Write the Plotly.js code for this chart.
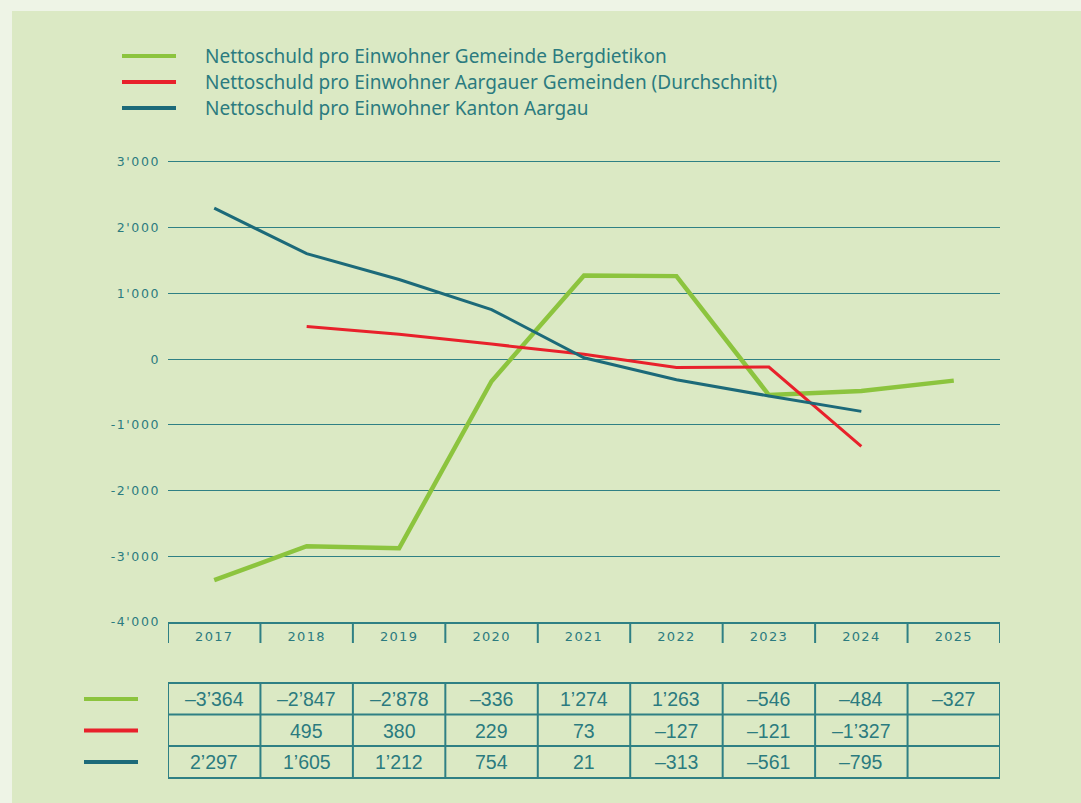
<!DOCTYPE html>
<html>
<head>
<meta charset="utf-8">
<script src="https://cdn.plot.ly/plotly-3.0.1.min.js"></script>
<style>
  html, body { margin: 0; padding: 0; background: #eef4e6; }
  #chart { width: 1081px; height: 803px; }
  .xtick text { letter-spacing: 1.3px; }
  .ytick text { letter-spacing: 1.6px; }
  .gridlayer path, .zerolinelayer path { shape-rendering: crispEdges; }
</style>
</head>
<body>
<div id="chart"></div>
<script>
// ---- data ----
const years = ['2017', '2018', '2019', '2020', '2021', '2022', '2023', '2024', '2025'];
const gemeinde = [-3364, -2847, -2878, -336, 1274, 1263, -546, -484, -327];
const aargauer = [null, 495, 380, 229, 73, -127, -121, -1327, null];
const kanton = [2297, 1605, 1212, 754, 21, -313, -561, -795, null];
const seriesNames = [
  'Nettoschuld pro Einwohner Gemeinde Bergdietikon',
  'Nettoschuld pro Einwohner Aargauer Gemeinden (Durchschnitt)',
  'Nettoschuld pro Einwohner Kanton Aargau'
];
const yTickVals = [3000, 2000, 1000, 0, -1000, -2000, -3000, -4000];
const yTickText = ["3'000", "2'000", "1'000", "0", "-1'000", "-2'000", "-3'000", "-4'000"];

// ---- styling ----
const GREEN = '#8cc43e';
const RED = '#e8212b';
const BLUE = '#1c6a79';
const TEAL = '#2b7b7f';
const LINE = '#2f8084';
const PANEL = '#dbe9c4';
const FONT = '"Liberation Sans", Arial, sans-serif';
const TICKFONT = '"DejaVu Sans", sans-serif';
const LEGFONT = '"Noto Sans", "Liberation Sans", sans-serif';

const allSeries = [gemeinde, aargauer, kanton];
const colors = [GREEN, RED, BLUE];
const widths = [4.5, 3, 3];

function fmt(v) {
  if (v === null || v === undefined) return '';
  const s = Math.abs(v).toString().replace(/\B(?=(\d{3})+(?!\d))/g, '\u2019');
  return (v < 0 ? '\u2013' : '') + s;
}

const traces = allSeries.map((vals, i) => ({
  type: 'scatter', mode: 'lines', x: years, y: vals, name: seriesNames[i],
  line: { color: colors[i], width: widths[i] }, connectgaps: false,
  hoverinfo: 'skip', showlegend: false
}));

// paper coordinate helpers (plot: top 160px, bottom 622px, left 168px, width 832px)
const TOP = 160, BOT = 622, LEFT = 168, PW = 832;
const PH = BOT - TOP;
const py = p => (BOT - p) / PH;
const px = p => (p - LEFT) / PW;
const colX = j => (j + 0.5) / years.length;   // centre of category column in paper units

const shapes = [];
const annotations = [];

// panel background
shapes.push({ type: 'rect', xref: 'paper', yref: 'paper', x0: px(12), x1: px(1090), y0: py(11), y1: py(810),
  fillcolor: PANEL, line: { width: 0 }, layer: 'below' });

// top legend
const legY = [56, 82, 108];
seriesNames.forEach((name, i) => {
  shapes.push({ type: 'line', xref: 'paper', yref: 'paper', x0: px(122), x1: px(176), y0: py(legY[i]), y1: py(legY[i]),
    line: { color: colors[i], width: 4 } });
  annotations.push({ xref: 'paper', yref: 'paper', x: px(203), y: py(legY[i]), xanchor: 'left', yanchor: 'middle',
    text: name, showarrow: false, font: { family: LEGFONT, size: 19, color: TEAL } });
});

// x-axis category boundary boxes
for (let k = 0; k <= years.length; k++) {
  shapes.push({ type: 'line', xref: 'x', yref: 'paper', x0: k - 0.5, x1: k - 0.5, y0: 0, y1: py(643),
    line: { color: LINE, width: 2 } });
}

// table
const rowEdges = [683, 714.5, 746, 778];
const rowCenters = [699, 730.5, 762];
rowEdges.forEach(e => {
  shapes.push({ type: 'line', xref: 'x', yref: 'paper', x0: -0.52, x1: years.length - 0.5, y0: py(e), y1: py(e),
    line: { color: LINE, width: 2 } });
});
for (let k = 0; k <= years.length; k++) {
  shapes.push({ type: 'line', xref: 'x', yref: 'paper', x0: k - 0.5, x1: k - 0.5, y0: py(683), y1: py(778),
    line: { color: LINE, width: 2 } });
}
allSeries.forEach((vals, i) => {
  shapes.push({ type: 'line', xref: 'paper', yref: 'paper', x0: px(84), x1: px(138), y0: py(rowCenters[i]), y1: py(rowCenters[i]),
    line: { color: colors[i], width: 4 } });
  vals.forEach((v, j) => {
    if (v === null) return;
    annotations.push({ xref: 'paper', yref: 'paper', x: colX(j), y: py(rowCenters[i]), xanchor: 'center', yanchor: 'middle',
      text: fmt(v), showarrow: false, font: { family: FONT, size: 19.5, color: TEAL } });
  });
});

const layout = {
  width: 1081, height: 803,
  paper_bgcolor: '#eef4e6', plot_bgcolor: 'rgba(0,0,0,0)',
  margin: { l: LEFT, r: 1081 - LEFT - PW, t: TOP, b: 803 - BOT },
  showlegend: false,
  xaxis: {
    type: 'category', range: [-0.5, years.length - 0.5], fixedrange: true,
    showgrid: false, zeroline: false, showline: true, linecolor: LINE, linewidth: 2,
    ticks: '', tickfont: { family: TICKFONT, size: 13, color: TEAL }, ticklabelstandoff: 1
  },
  yaxis: {
    range: [-4000, 3030], fixedrange: true,
    tickvals: yTickVals, ticktext: yTickText,
    showgrid: true, gridcolor: LINE, gridwidth: 1,
    zeroline: true, zerolinecolor: LINE, zerolinewidth: 1,
    showline: false, ticks: '',
    tickfont: { family: TICKFONT, size: 12.5, color: TEAL }, ticklabelstandoff: 7
  },
  shapes: shapes,
  annotations: annotations
};

Plotly.newPlot('chart', traces, layout, { staticPlot: true, displayModeBar: false });
</script>
</body>
</html>
